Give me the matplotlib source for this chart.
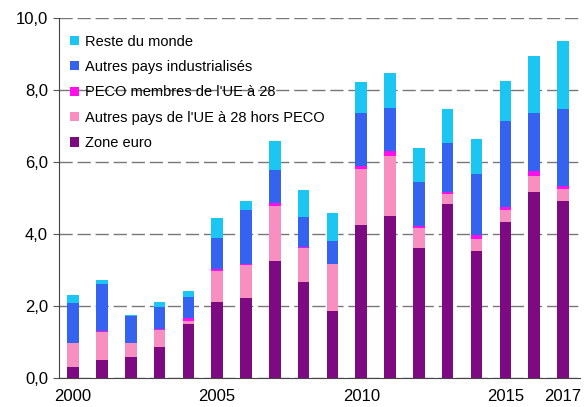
import matplotlib
matplotlib.use("Agg")
import matplotlib.pyplot as plt
from matplotlib.ticker import FuncFormatter, MultipleLocator

plt.rcParams['font.family'] = ['Liberation Sans', 'DejaVu Sans']

years = list(range(2000, 2018))
zone_euro = [0.30, 0.50, 0.57, 0.85, 1.49, 2.10, 2.21, 3.25, 2.66, 1.86, 4.25, 4.51, 3.60, 4.82, 3.54, 4.34, 5.18, 4.92]
autres_ue = [0.66, 0.79, 0.39, 0.48, 0.10, 0.87, 0.93, 1.53, 0.94, 1.30, 1.55, 1.66, 0.56, 0.30, 0.31, 0.33, 0.44, 0.33]
peco = [0.02, 0.02, 0.02, 0.03, 0.07, 0.05, 0.04, 0.07, 0.04, 0.02, 0.10, 0.13, 0.07, 0.06, 0.12, 0.08, 0.13, 0.09]
industrialises = [1.09, 1.29, 0.74, 0.60, 0.60, 0.86, 1.49, 0.93, 0.84, 0.63, 1.45, 1.21, 1.21, 1.35, 1.69, 2.40, 1.60, 2.12]
reste_monde = [0.23, 0.12, 0.03, 0.14, 0.17, 0.56, 0.24, 0.80, 0.75, 0.78, 0.86, 0.95, 0.94, 0.93, 0.97, 1.11, 1.59, 1.91]

series = [
    ("Zone euro", zone_euro, "#7d0a80"),
    ("Autres pays de l'UE à 28 hors PECO", autres_ue, "#f78fc0"),
    ("PECO membres de l'UE à 28", peco, "#ff10e8"),
    ("Autres pays industrialisés", industrialises, "#3562ee"),
    ("Reste du monde", reste_monde, "#1cc6f2"),
]
xticks = [2000, 2005, 2010, 2015, 2017]

fig = plt.figure(figsize=(5.87, 4.07), dpi=100)
ax = fig.add_axes([0.1005, 0.0713, 0.888, 0.8845])

bottom = [0.0] * len(years)
for name, vals, col in series:
    ax.bar(years, vals, width=0.4, bottom=bottom, color=col, label=name, zorder=3)
    bottom = [b + v for b, v in zip(bottom, vals)]

ax.set_xlim(1999.51, 2017.6)
ax.set_ylim(0, 10)
ax.yaxis.set_major_locator(MultipleLocator(2))
ax.yaxis.set_major_formatter(FuncFormatter(lambda v, p: f"{v:.1f}".replace(".", ",")))
ax.set_xticks(xticks)
ax.tick_params(axis='x', length=0, labelsize=12, pad=8)
ax.tick_params(axis='y', length=4, labelsize=12, color='#555555', pad=4)
ax.grid(axis='y', linestyle=(0, (9.5, 3.5)), color='#777777', linewidth=1, zorder=0)
for s in ['top', 'right']:
    ax.spines[s].set_visible(False)
ax.spines['left'].set_color('#444444')
ax.spines['bottom'].set_color('#444444')

handles, labels = ax.get_legend_handles_labels()
leg = ax.legend(handles[::-1], labels[::-1], loc='upper left', frameon=False,
                fontsize=10.5, handlelength=0.6, handleheight=0.6, handletextpad=0.4,
                labelspacing=0.78, bbox_to_anchor=(0.01, 0.97), borderaxespad=0)

fig.savefig("out.png", dpi=100)
